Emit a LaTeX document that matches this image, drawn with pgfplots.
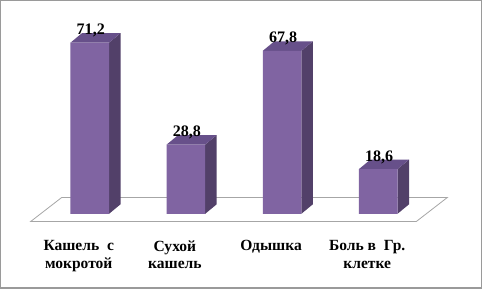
\documentclass[border=0pt]{standalone}
\usepackage{pgfplots}
\pgfplotsset{compat=1.18}
\usepackage{fontspec}
\setmainfont{Liberation Serif}
\definecolor{barfront}{HTML}{8064A2}
\definecolor{barside}{HTML}{524069}
\definecolor{bartop}{HTML}{67508A}
\definecolor{framegray}{HTML}{9A9A9A}
\definecolor{floorgray}{HTML}{A6A6A6}
\begin{document}
\begin{tikzpicture}
\begin{axis}[
  scale only axis,
  width=480pt, height=287pt,
  xmin=-0.9271, xmax=4.0729,
  ymin=-30.9, ymax=88.7,
  axis line style={framegray, line width=1.2pt},
  ytick=\empty,
  xtick={0,1,2,3},
  major tick length=0pt,
  xticklabels={{Кашель\ \ с\\мокротой},{Сухой\\кашель},{Одышка},{Боль в\ \ Гр.\\клетке}},
  xticklabel style={align=center, font=\fontsize{15.5}{17.6}\selectfont\bfseries,
    anchor=north, yshift=51pt, xshift=-11pt},
  clip=false,
]
% floor
\addplot[draw=floorgray, line width=0.8pt, fill=white] coordinates
  {(-0.2917,6.79) (3.7188,6.79) (3.3958,-3.21) (-0.6146,-3.21) (-0.2917,6.79)};
% side faces
\addplot[draw=none, fill=barside] coordinates {(0.2005,0) (0.3203,3.958) (0.3203,75.158) (0.2005,71.2) (0.2005,0)};
\addplot[draw=none, fill=barside] coordinates {(1.2005,0) (1.3203,3.958) (1.3203,32.758) (1.2005,28.8) (1.2005,0)};
\addplot[draw=none, fill=barside] coordinates {(2.2005,0) (2.3203,3.958) (2.3203,71.758) (2.2005,67.8) (2.2005,0)};
\addplot[draw=none, fill=barside] coordinates {(3.2005,0) (3.3203,3.958) (3.3203,22.558) (3.2005,18.6) (3.2005,0)};
% top faces
\addplot[draw=none, fill=bartop] coordinates {(-0.2005,71.2) (0.2005,71.2) (0.3203,75.158) (-0.0807,75.158) (-0.2005,71.2)};
\addplot[draw=none, fill=bartop] coordinates {(0.7995,28.8) (1.2005,28.8) (1.3203,32.758) (0.9193,32.758) (0.7995,28.8)};
\addplot[draw=none, fill=bartop] coordinates {(1.7995,67.8) (2.2005,67.8) (2.3203,71.758) (1.9193,71.758) (1.7995,67.8)};
\addplot[draw=none, fill=bartop] coordinates {(2.7995,18.6) (3.2005,18.6) (3.3203,22.558) (2.9193,22.558) (2.7995,18.6)};
% front faces
\addplot[ybar, bar width=38.5pt, bar shift=0pt, draw=none, fill=barfront,
  nodes near coords,
  nodes near coords style={anchor=base, yshift=8pt, xshift=1pt,
    font=\fontsize{16}{17}\selectfont\bfseries,
    /pgf/number format/.cd, fixed, fixed zerofill, precision=1, use comma, assume math mode=true},
] coordinates {(0,71.2) (1,28.8) (2,67.8) (3,18.6)};
\end{axis}
\end{tikzpicture}
\end{document}
